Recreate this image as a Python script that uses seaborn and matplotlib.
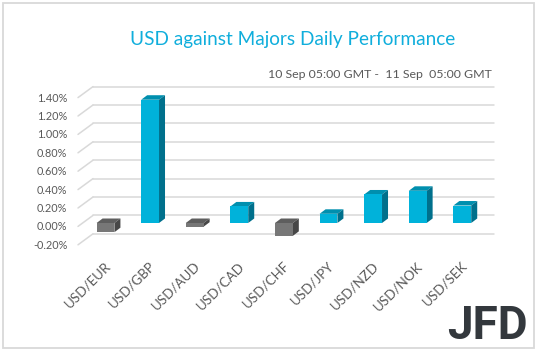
import matplotlib
matplotlib.use("Agg")
import matplotlib.pyplot as plt
import seaborn as sns
from matplotlib.patches import Polygon, Rectangle
from matplotlib.transforms import ScaledTranslation

# ---- data ----
pairs = ["USD/EUR", "USD/GBP", "USD/AUD", "USD/CAD", "USD/CHF",
         "USD/JPY", "USD/NZD", "USD/NOK", "USD/SEK"]
values = [-0.10, 1.34, -0.04, 0.18, -0.14, 0.10, 0.31, 0.35, 0.19]
yticks = [-0.2, 0.0, 0.2, 0.4, 0.6, 0.8, 1.0, 1.2, 1.4]
ytick_labels = ["-0.20%", "0.00%", "0.20%", "0.40%", "0.60%", "0.80%",
                "1.00%", "1.20%", "1.40%"]
title = "USD against Majors Daily Performance"
subtitle = "10 Sep 05:00 GMT -  11 Sep  05:00 GMT"

sns.set_theme(style="white")
plt.rcParams["font.family"] = ["Lato", "DejaVu Sans"]

W, H = 538, 351
fig = plt.figure(figsize=(W / 100, H / 100), dpi=100)
fig.patch.set_facecolor("white")

# axes in pixel geometry (bar plane)
ax_l, ax_r = 83.2, 484.6
ymin, ymax = -0.2, 1.4
pxu = 92.0
zero_top = 223.0
ax_bottom_px = H - (zero_top + (-ymin) * pxu)
ax_h_px = (ymax - ymin) * pxu
ax = fig.add_axes([ax_l / W, ax_bottom_px / H, (ax_r - ax_l) / W, ax_h_px / H])
ax.set_facecolor("none")

cyan_front, cyan_side, cyan_top = "#00B2DA", "#00708C", "#008FAE"
gray_front, gray_side, gray_top = "#777777", "#474747", "#5E5E5E"
palette = {p: (cyan_front if v >= 0 else gray_front) for p, v in zip(pairs, values)}

sns.barplot(x=pairs, y=values, hue=pairs, palette=palette, width=0.4,
            legend=False, ax=ax, saturation=1, zorder=3, linewidth=0)

ax.set_xlim(-0.5, len(pairs) - 0.5)
ax.set_ylim(ymin, ymax)

pxx = (ax_r - ax_l) / len(pairs)
# back wall / front edge offsets (data units)
bdx, bdy = 9.8 / pxx, 7.6 / pxu
fdx, fdy = -5.2 / pxx, -3.4 / pxu
grid_c = "#D9D9D9"
for v in yticks:
    ax.plot([-0.5 + bdx, len(pairs) - 0.5 + bdx], [v + bdy, v + bdy],
            color=grid_c, lw=1.1, clip_on=False, zorder=1)
    ax.plot([-0.5 + fdx, -0.5 + bdx], [v + fdy, v + bdy],
            color=grid_c, lw=1.1, clip_on=False, zorder=1)

# 3D faces of bars
ddx, ddy = 6.0 / pxx, 4.5 / pxu
for patch, v in zip(ax.patches, values):
    x0 = patch.get_x()
    w = patch.get_width()
    top = max(0, v)
    bot = min(0, v)
    side_c = cyan_side if v >= 0 else gray_side
    top_c = cyan_top if v >= 0 else gray_top
    ax.add_patch(Polygon([(x0, top), (x0 + w, top), (x0 + w + ddx, top + ddy),
                          (x0 + ddx, top + ddy)], closed=True, fc=top_c,
                         ec="none", zorder=2, clip_on=False))
    ax.add_patch(Polygon([(x0 + w, bot), (x0 + w + ddx, bot + ddy),
                          (x0 + w + ddx, top + ddy), (x0 + w, top)],
                         closed=True, fc=side_c, ec="none", zorder=2,
                         clip_on=False))

for s in ax.spines.values():
    s.set_visible(False)

lab_c = "#595959"
ax.set_yticks(yticks)
ax.set_yticklabels(ytick_labels, fontsize=7.8, color=lab_c)
ax.tick_params(axis="y", length=0, pad=11.5)
for t in ax.get_yticklabels():
    t.set_transform(t.get_transform() + ScaledTranslation(0, -0.03, fig.dpi_scale_trans))

ax.set_xticks(range(len(pairs)))
ax.set_xticklabels(pairs, rotation=45, ha="right", rotation_mode="anchor",
                   fontsize=9.6, color=lab_c)
ax.tick_params(axis="x", length=0, pad=13)
for t in ax.get_xticklabels():
    t.set_transform(t.get_transform() + ScaledTranslation(-0.01, 0, fig.dpi_scale_trans))
ax.set_xlabel("")
ax.set_ylabel("")

# titles
fig.text(292.5 / W, 1 - 39 / H, title, ha="center", va="center",
         fontsize=13.7, color="#10AEDC")
fig.text(492 / W, 1 - 75 / H, subtitle, ha="right", va="center",
         fontsize=8.9, color=lab_c)

# logo
fig.text(487 / W, 1 - 326 / H, "JFD", ha="center", va="center",
         fontsize=33, fontweight="bold", color="#33383D",
         family=["Roboto", "DejaVu Sans"])

# frame
fig.add_artist(Rectangle((2.5 / W, 3.5 / H), 531.5 / W, 345 / H,
                         transform=fig.transFigure, fill=False,
                         ec="#D9D9D9", lw=1.3))

fig.savefig("out.png", dpi=100)
